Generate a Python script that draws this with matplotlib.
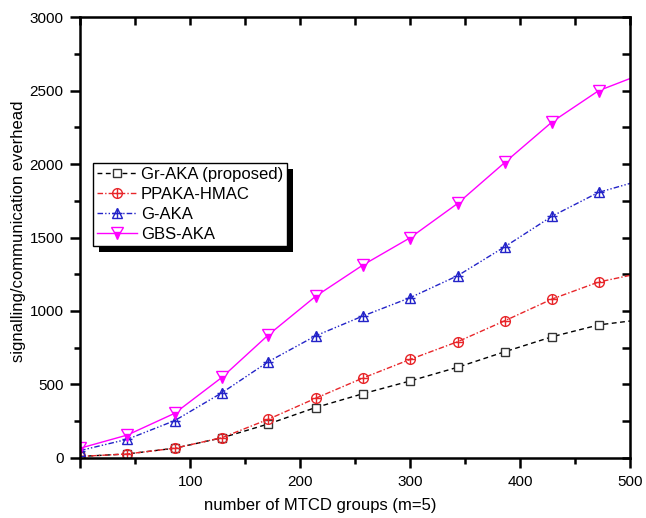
import matplotlib
matplotlib.use('Agg')
import matplotlib.pyplot as plt
from matplotlib.patches import Rectangle
from matplotlib.ticker import MultipleLocator

plt.rcParams['font.family'] = ['Liberation Sans', 'DejaVu Sans']

# data (last point at x=500 is the line end, no marker)
groups = [0, 43, 86, 129, 171, 214, 257, 300, 343, 386, 429, 471, 500]
gr_aka = [10, 27, 66, 137, 231, 343, 437, 524, 617, 723, 825, 905, 932]
ppaka_hmac = [10, 27, 66, 138, 263, 406, 544, 671, 791, 934, 1082, 1197, 1243]
g_aka = [50, 127, 254, 444, 655, 831, 966, 1091, 1240, 1438, 1646, 1807, 1869]
gbs_aka = [66, 156, 304, 549, 837, 1100, 1313, 1499, 1732, 2012, 2288, 2499, 2583]
labels = ['Gr-AKA (proposed)', 'PPAKA-HMAC', 'G-AKA', 'GBS-AKA']

RED = '#e8262a'
BLUE = '#2323c8'
MAG = '#ff00ff'

fig = plt.figure(figsize=(6.46, 5.18), dpi=100)
ax = fig.add_axes([0.124, 0.116, 0.852, 0.851])

mk = slice(0, 12)

h1, = ax.plot(groups, gr_aka, color='black', ls=(0, (3.5, 2.5)), lw=1.0,
              marker='s', ms=6, mfc='white', mec='#333333', mew=1.0, markevery=mk)

h2, = ax.plot(groups, ppaka_hmac, color=RED, ls=(0, (4, 1.5, 1, 1.5)), lw=1.0,
              marker='o', ms=7, mfc='none', mec=RED, mew=1.0, markevery=mk)
h2b, = ax.plot(groups, ppaka_hmac, ls='none', marker='+', ms=7, mec=RED, mew=1.0,
               markevery=mk)

h3, = ax.plot(groups, g_aka, color=BLUE, ls=(0, (4, 1.5, 1, 1.5, 1, 1.5)), lw=1.0,
              marker='^', ms=7.5, mfc='none', mec=BLUE, mew=1.0, markevery=mk)
h3b, = ax.plot(groups, g_aka, ls='none', marker='+', ms=7, mec=BLUE, mew=1.0,
               markevery=mk)

h4, = ax.plot(groups, gbs_aka, color=MAG, ls='-', lw=1.0,
              marker='v', ms=8, fillstyle='bottom', mfc=MAG, mfcalt='white',
              mec=MAG, mew=1.0, markevery=mk)

ax.set_xlim(0, 500)
ax.set_ylim(0, 3000)
ax.xaxis.set_major_locator(MultipleLocator(100))
ax.xaxis.set_minor_locator(MultipleLocator(50))
ax.yaxis.set_major_locator(MultipleLocator(500))
ax.yaxis.set_minor_locator(MultipleLocator(250))

for s in ax.spines.values():
    s.set_linewidth(1.8)

# bottom/left ticks outward
ax.tick_params(axis='both', which='both', width=1.8, labelsize=11, color='black')
ax.tick_params(axis='x', which='major', direction='out', length=7, pad=5)
ax.tick_params(axis='x', which='minor', direction='out', length=4)
ax.tick_params(axis='y', which='major', direction='out', length=7, pad=5)
ax.tick_params(axis='y', which='minor', direction='out', length=4)

# top/right ticks point inward
sx = ax.secondary_xaxis('top')
sx.xaxis.set_major_locator(MultipleLocator(100))
sx.xaxis.set_minor_locator(MultipleLocator(50))
sx.tick_params(which='both', direction='in', length=6, width=1.8, labeltop=False)
sy = ax.secondary_yaxis('right')
sy.yaxis.set_major_locator(MultipleLocator(500))
sy.yaxis.set_minor_locator(MultipleLocator(250))
sy.tick_params(which='both', direction='in', length=6, width=1.8, labelright=False)

ax.xaxis.set_major_formatter(plt.FuncFormatter(lambda v, p: '' if v == 0 else f'{v:.0f}'))

ax.set_xlabel('number of MTCD groups (m=5)', fontsize=12)
ax.set_ylabel('signalling/communication everhead', fontsize=12)
ax.xaxis.set_label_coords(0.436, -0.09)
ax.yaxis.set_label_coords(-0.098, 0.515)

leg = ax.legend([h1, (h2, h2b), (h3, h3b), h4], labels, loc='upper left',
                bbox_to_anchor=(0.024, 0.669), borderaxespad=0, fontsize=12,
                fancybox=False, edgecolor='black', framealpha=1,
                handlelength=2.4, handletextpad=0.2, labelspacing=0.3,
                borderpad=0.25)
leg.get_frame().set_linewidth(1.0)
leg.set_zorder(10)

fig.canvas.draw()
bb = leg.get_window_extent()
shadow = Rectangle((bb.x0 + 6, bb.y0 - 6), bb.width, bb.height, transform=None,
                   facecolor='black', edgecolor='none', zorder=9)
ax.add_artist(shadow)

fig.savefig('out.png', dpi=100)
